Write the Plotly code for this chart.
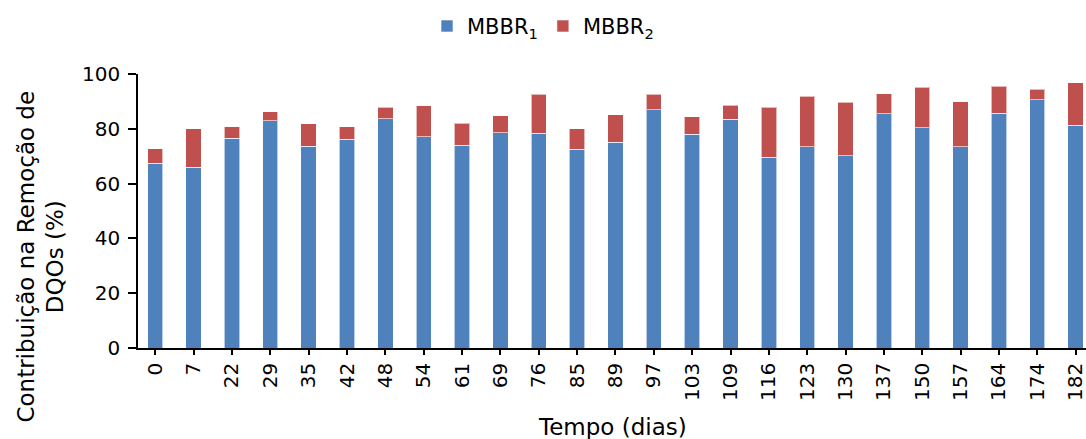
import plotly.graph_objects as go

dias = ["0", "7", "22", "29", "35", "42", "48", "54", "61", "69", "76", "85", "89",
        "97", "103", "109", "116", "123", "130", "137", "150", "157", "164", "174", "182"]
mbbr1 = [67.4, 65.9, 76.6, 83.0, 73.7, 76.2, 83.6, 77.1, 74.0, 78.5, 78.4, 72.6, 75.1,
         87.0, 78.0, 83.5, 69.6, 73.5, 70.1, 85.5, 80.4, 73.5, 85.7, 90.6, 81.3]
total = [72.7, 80.0, 80.8, 86.3, 81.9, 80.7, 87.9, 88.5, 82.0, 84.7, 92.7, 80.0, 85.1,
         92.7, 84.4, 88.6, 87.8, 91.8, 89.7, 92.8, 95.1, 89.9, 95.5, 94.5, 96.8]
mbbr2 = [round(t - a, 1) for t, a in zip(total, mbbr1)]

FONT = "DejaVu Sans, Liberation Sans, Arial, sans-serif"

fig = go.Figure()
fig.add_trace(go.Bar(x=dias, y=mbbr1, name="MBBR<sub>1</sub>",
                     marker=dict(color="#4F81BD", line=dict(color="rgba(255,255,255,0.6)", width=1))))
fig.add_trace(go.Bar(x=dias, y=mbbr2, name="MBBR<sub>2</sub>",
                     marker=dict(color="#C0504D", line=dict(color="rgba(255,255,255,0.6)", width=1))))

fig.update_layout(
    barmode="stack",
    bargap=0.6,
    width=1086, height=439,
    margin=dict(l=138, r=0, t=74, b=91),
    paper_bgcolor="white", plot_bgcolor="white",
    font=dict(family=FONT, size=21, color="black"),
    legend=dict(orientation="h", xref="container", x=0.5, xanchor="center",
                yref="container", y=0.94, yanchor="middle",
                font=dict(size=21), itemwidth=30, traceorder="normal"),
    showlegend=True,
)
fig.update_xaxes(type="category", range=[-0.45, 24.27], showline=True, linecolor="black",
                 linewidth=1.5, ticks="outside", ticklen=5, tickwidth=1.5, tickcolor="black",
                 tickangle=-90, showgrid=False, tickfont=dict(size=20))
fig.update_yaxes(range=[0, 100], dtick=20, showline=True, linecolor="black", linewidth=1.5,
                 ticks="outside", ticklen=8, tickwidth=1.5, tickcolor="black",
                 ticklabelstandoff=4,
                 showgrid=False, zeroline=False, tickfont=dict(size=20))

fig.add_annotation(text="Contribuição na Remoção de<br>DQOs (%)", textangle=-90,
                   xref="paper", yref="paper", x=-0.1028, y=0.332,
                   xanchor="center", yanchor="middle", showarrow=False,
                   font=dict(size=23), align="center")
fig.add_annotation(text="Tempo (dias)", xref="paper", yref="paper", x=0.5, y=-0.288,
                   xanchor="center", yanchor="middle", showarrow=False, font=dict(size=23))

fig.write_html("out.html", config={"displayModeBar": False},
               post_script="document.body.style.margin='0';document.body.style.padding='0';")
